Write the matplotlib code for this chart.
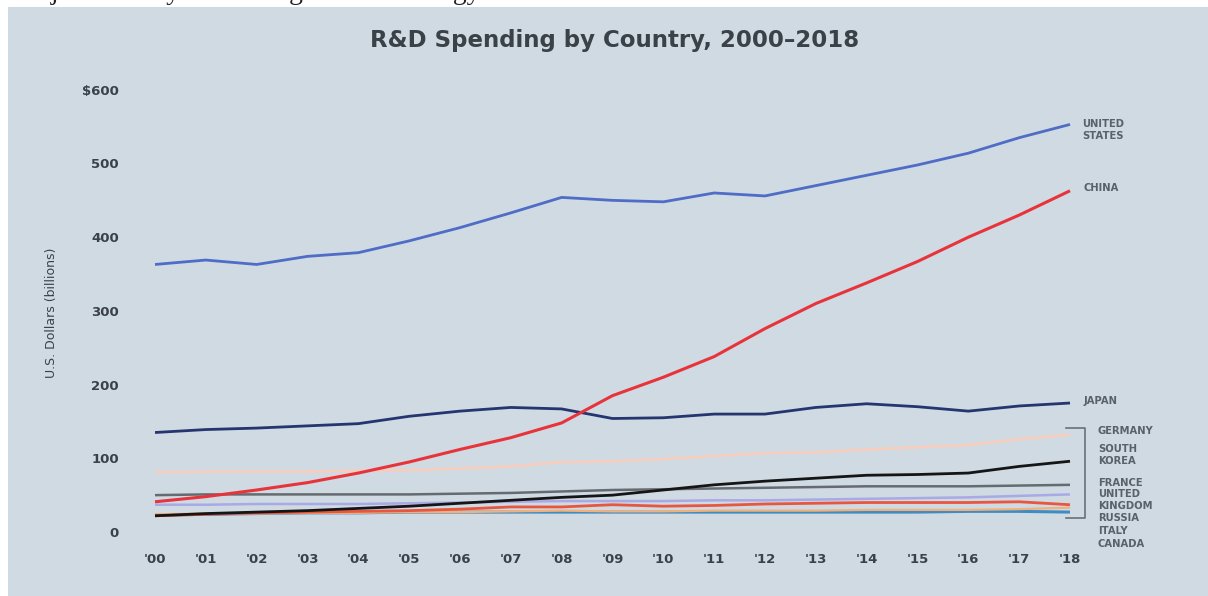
import matplotlib
matplotlib.use("Agg")
import matplotlib.pyplot as plt
from matplotlib.patches import Rectangle

plt.rcParams.update({
    "font.family": ["DejaVu Sans"],
    "axes.unicode_minus": False,
})

BG = "#cfdae3"
INK = "#3a4148"
LABEL = "#5a6168"

years = list(range(19))
year_labels = ["'00", "'01", "'02", "'03", "'04", "'05", "'06", "'07", "'08", "'09",
               "'10", "'11", "'12", "'13", "'14", "'15", "'16", "'17", "'18"]

us = [363, 369, 363, 374, 379, 395, 413, 433, 454, 450, 448, 460, 456, 470, 484, 498, 514, 535, 553]
china = [41, 48, 57, 67, 80, 95, 112, 128, 148, 185, 210, 238, 276, 310, 338, 367, 400, 430, 463]
japan = [135, 139, 141, 144, 147, 157, 164, 169, 167, 154, 155, 160, 160, 169, 174, 170, 164, 171, 175]
germany = [81, 82, 82, 82, 83, 84, 86, 89, 95, 96, 99, 103, 107, 108, 112, 115, 118, 126, 132]
south_korea = [22, 25, 27, 29, 32, 35, 39, 43, 47, 50, 57, 64, 69, 73, 77, 78, 80, 89, 96]
france = [50, 51, 51, 51, 51, 51, 52, 53, 55, 57, 58, 59, 60, 61, 62, 62, 62, 63, 64]
uk = [37, 37, 38, 38, 38, 39, 40, 41, 42, 42, 42, 43, 43, 44, 45, 46, 47, 49, 51]
russia = [22, 24, 26, 27, 28, 29, 31, 34, 34, 37, 35, 36, 38, 39, 40, 40, 40, 41, 37]
italy = [24, 25, 25, 26, 26, 27, 27, 28, 29, 28, 28, 29, 29, 29, 30, 30, 30, 31, 33]
canada = [23, 24, 25, 26, 26, 27, 27, 27, 27, 27, 27, 27, 27, 27, 27, 27, 28, 28, 27]

# (series, colour, linewidth) drawn back to front
series = [
    (canada, "#3f8cc4", 2.2),
    (italy, "#f2b07a", 1.6),
    (russia, "#e9563f", 2.0),
    (uk, "#a9a9e6", 1.8),
    (france, "#656b70", 1.8),
    (south_korea, "#151515", 2.0),
    (germany, "#f7cdbd", 2.0),
    (japan, "#25356f", 2.0),
    (china, "#e8333b", 2.2),
    (us, "#4f6cc6", 2.0),
]

W, H = 1208, 596
fig = plt.figure(figsize=(W / 100, H / 100), dpi=100, facecolor="white")

# panel background (white strip at top / left as in the scan)
fig.patches.append(Rectangle((8 / W, 0), 1, 1 - 7 / H, transform=fig.transFigure,
                             facecolor=BG, edgecolor="none", zorder=-10))
# heading of the page above the chart, cut off by the scan
fig.text(14 / W, 1 + 1 / H, "Major Military Technologies and Strategy",
         family=["Liberation Serif", "DejaVu Serif"], fontsize=20, color="#222222",
         va="baseline", ha="left", zorder=-5)

# axes placed so that '00 -> x=155px, '18 -> x=1070px, 0 -> y=532px, 600 -> y=90px
px_x = 50.83
px_y = 0.737
left_px, right_px, top_px, bot_px = 130, 1090, 80, 545
x0 = 0 - (155 - left_px) / px_x
x1 = 18 + (right_px - 1070) / px_x
y0 = (532 - bot_px) / px_y
y1 = (532 - top_px) / px_y
ax = fig.add_axes([left_px / W, 1 - bot_px / H, (right_px - left_px) / W,
                   (bot_px - top_px) / H])
ax.set_facecolor("none")
ax.set_zorder(2)
ax.set_xlim(x0, x1)
ax.set_ylim(y0, y1)

for vals, col, lw in series:
    ax.plot(years, vals, color=col, lw=lw, solid_capstyle="butt", zorder=3)

ax.set_xticks(years)
ax.set_xticklabels(year_labels, fontsize=9.5, fontweight="bold", color=INK)
ax.set_yticks([0, 100, 200, 300, 400, 500, 600])
ax.set_yticklabels(["0", "100", "200", "300", "400", "500", "$600"],
                   fontsize=9.5, fontweight="bold", color=INK)
ax.tick_params(length=0, axis="x", pad=6)
ax.tick_params(length=0, axis="y", pad=8)
for s in ax.spines.values():
    s.set_visible(False)
ax.set_ylabel("U.S. Dollars (billions)", fontsize=9, color=INK, labelpad=17)

fig.text(615 / W, 1 - 41 / H, "R&D Spending by Country, 2000\u20132018",
         fontsize=16.5, fontweight="bold", color="#3a4147", ha="center", va="center")

# end labels
lab_kw = dict(fontsize=7.2, fontweight="bold", color=LABEL, va="center", ha="left",
              clip_on=False, linespacing=1.25)
ax.text(18.24, 546, "UNITED\nSTATES", **lab_kw)
ax.text(18.26, 467, "CHINA", **lab_kw)
ax.text(18.26, 178, "JAPAN", **lab_kw)
bx = 18.55
ax.text(bx, 137, "GERMANY", **lab_kw)
ax.text(bx, 104, "SOUTH\nKOREA", **lab_kw)
ax.text(bx, 66, "FRANCE", **lab_kw)
ax.text(bx, 43, "UNITED\nKINGDOM", **lab_kw)
ax.text(bx, 19, "RUSSIA", **lab_kw)
ax.text(bx, 1, "ITALY", **lab_kw)
ax.text(bx, -16, "CANADA", **lab_kw)

# bracket grouping the smaller spenders
ax.plot([17.92, 18.3, 18.3, 17.92], [141, 141, 19, 19], color="#6a7075", lw=1.2,
        clip_on=False, zorder=2)

fig.savefig("out.png", dpi=100, facecolor="white")
